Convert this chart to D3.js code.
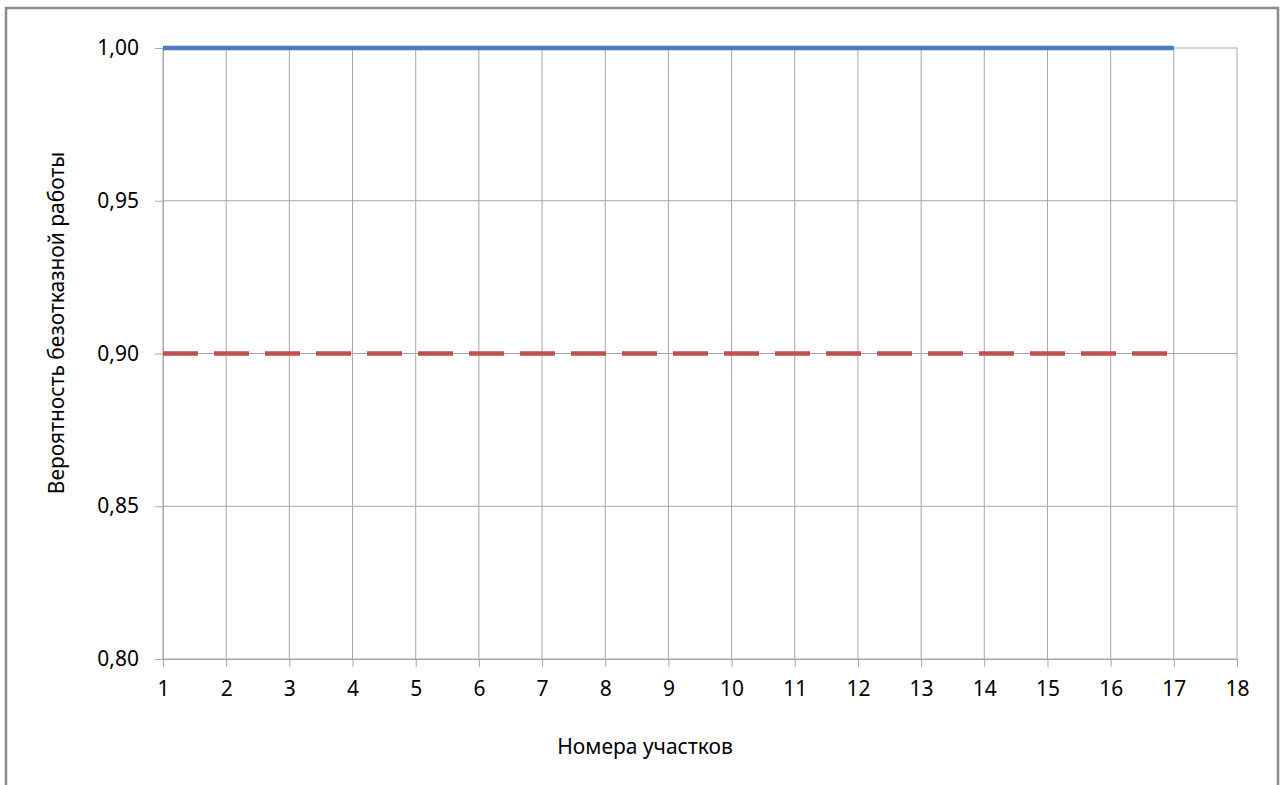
<!DOCTYPE html>
<html><head><meta charset="utf-8">
<script src="https://cdn.jsdelivr.net/npm/d3@7"></script>
<style>body{margin:0;background:#fff;}svg{display:block;font-family:"Noto Sans",sans-serif;}</style>
</head><body><svg id="c" width="1286" height="785"></svg>
<script>
const sections = [1,2,3,4,5,6,7,8,9,10,11,12,13,14,15,16,17];
const seriesReliability = [1,1,1,1,1,1,1,1,1,1,1,1,1,1,1,1,1];
const seriesThreshold = [0.9,0.9,0.9,0.9,0.9,0.9,0.9,0.9,0.9,0.9,0.9,0.9,0.9,0.9,0.9,0.9,0.9];
const xTicks = [1,2,3,4,5,6,7,8,9,10,11,12,13,14,15,16,17,18];
const yTicks = [0.80,0.85,0.90,0.95,1.00];
const xTitle = "Номера участков";
const yTitle = "Вероятность безотказной работы";
const FONT = "'Noto Sans',sans-serif";
const FS = "21px";

const svg = d3.select("#c");
svg.append("rect").attr("x",6).attr("y",8).attr("width",1272).attr("height",800)
  .attr("fill","#fff").attr("stroke","#8c8c8c").attr("stroke-width",2.5);

const x = d3.scaleLinear().domain([1,18]).range([163,1237]);
const y = d3.scaleLinear().domain([0.80,1.00]).range([659,48]);

const g = svg.append("g");
g.selectAll(".vg").data(xTicks).join("line")
  .attr("x1",d=>x(d)).attr("x2",d=>x(d)).attr("y1",y(1)).attr("y2",y(0.8))
  .attr("stroke","#a6a6a6").attr("stroke-width",1);
g.selectAll(".hg").data(yTicks).join("line")
  .attr("x1",x(1)).attr("x2",x(18)).attr("y1",d=>y(d)).attr("y2",d=>y(d))
  .attr("stroke","#a6a6a6").attr("stroke-width",1);

const fmt = d=>d3.format(".2f")(d).replace(".",",");
const yAxis = g.append("g").attr("transform",`translate(${x(1)},0)`)
  .call(d3.axisLeft(y).tickValues(yTicks).tickFormat(fmt).tickSize(8).tickPadding(16));
const xAxis = g.append("g").attr("transform",`translate(0,${y(0.8)})`)
  .call(d3.axisBottom(x).tickValues(xTicks).tickFormat(d3.format("d")).tickSize(8).tickPadding(14));
[yAxis,xAxis].forEach(a=>{
  a.attr("font-family",null).attr("font-size",null);
  a.select(".domain").attr("stroke","#a6a6a6");
  a.selectAll(".tick line").attr("stroke","#a6a6a6");
  a.selectAll("text").attr("fill","#000").style("font-size",FS).style("font-family",FONT);
});

const line = d3.line().x((d,i)=>x(sections[i])).y(d=>y(d));
g.append("path").datum(seriesThreshold).attr("d",line).attr("fill","none")
  .attr("stroke","#c0504d").attr("stroke-width",4.5).attr("stroke-dasharray","35,16");
g.append("path").datum(seriesReliability).attr("d",line).attr("fill","none")
  .attr("stroke","#4a7ebb").attr("stroke-width",4.5);

svg.append("text").attr("x",645).attr("y",754).attr("text-anchor","middle")
  .style("font-size",FS).style("font-family",FONT).text(xTitle);
svg.append("text").attr("transform","translate(64,323) rotate(-90)").attr("text-anchor","middle")
  .style("font-size",FS).style("font-family",FONT).text(yTitle);
</script></body></html>
